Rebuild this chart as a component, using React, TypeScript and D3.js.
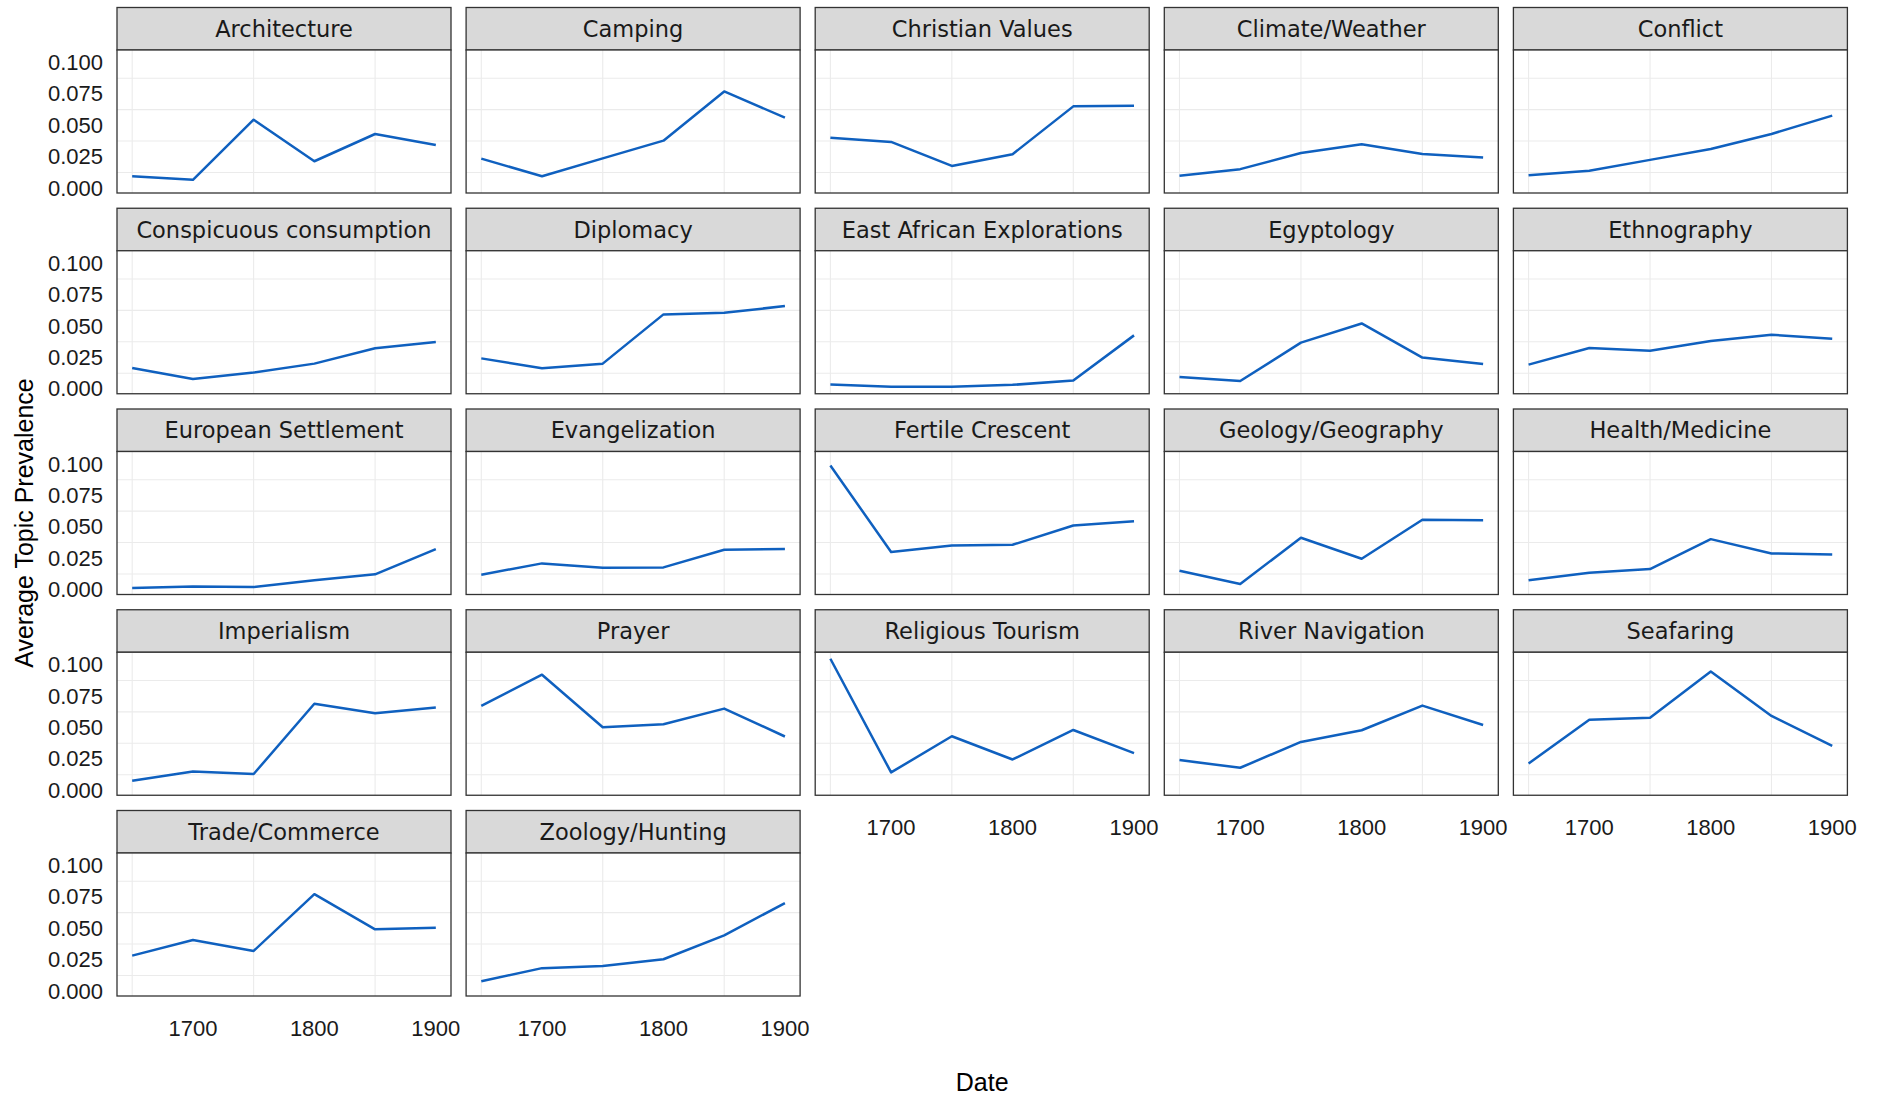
import React, { useEffect } from "react";
import * as d3 from "d3";

// decades sampled (every 50 years)
const years = [1650, 1700, 1750, 1800, 1850, 1900];

const topics = [
  "Architecture", "Camping", "Christian Values", "Climate/Weather", "Conflict",
  "Conspicuous consumption", "Diplomacy", "East African Explorations", "Egyptology", "Ethnography",
  "European Settlement", "Evangelization", "Fertile Crescent", "Geology/Geography", "Health/Medicine",
  "Imperialism", "Prayer", "Religious Tourism", "River Navigation", "Seafaring",
  "Trade/Commerce", "Zoology/Hunting",
];

// average topic prevalence per year
const architecture = [0.0095, 0.0066, 0.0545, 0.0214, 0.0431, 0.0344];
const camping = [0.0235, 0.0095, 0.0237, 0.0378, 0.0770, 0.0561];
const christianValues = [0.0402, 0.0368, 0.0177, 0.0270, 0.0651, 0.0656];
const climateWeather = [0.0098, 0.0151, 0.0280, 0.0349, 0.0272, 0.0243];
const conflict = [0.0103, 0.0138, 0.0225, 0.0312, 0.0431, 0.0577];
const conspicuous = [0.0167, 0.0079, 0.0130, 0.0201, 0.0323, 0.0373];
const diplomacy = [0.0243, 0.0164, 0.0201, 0.0593, 0.0606, 0.0659];
const eastAfrican = [0.0034, 0.0016, 0.0016, 0.0032, 0.0066, 0.0426];
const egyptology = [0.0095, 0.0063, 0.0368, 0.0521, 0.0249, 0.0198];
const ethnography = [0.0193, 0.0325, 0.0304, 0.0381, 0.0431, 0.0399];
const european = [0.0013, 0.0024, 0.0021, 0.0074, 0.0122, 0.0323];
const evangelization = [0.0119, 0.0209, 0.0175, 0.0177, 0.0317, 0.0323];
const fertileCrescent = [0.0989, 0.0299, 0.0352, 0.0357, 0.0511, 0.0545];
const geology = [0.0151, 0.0045, 0.0413, 0.0246, 0.0556, 0.0553];
const health = [0.0074, 0.0135, 0.0164, 0.0402, 0.0288, 0.0280];
const imperialism = [0.0077, 0.0151, 0.0130, 0.0690, 0.0614, 0.0659];
const prayer = [0.0672, 0.0921, 0.0503, 0.0526, 0.0651, 0.0429];
const religiousTourism = [0.1048, 0.0143, 0.0431, 0.0246, 0.0481, 0.0296];
const riverNavigation = [0.0241, 0.0180, 0.0386, 0.0479, 0.0675, 0.0521];
const seafaring = [0.0214, 0.0563, 0.0579, 0.0947, 0.0593, 0.0354];
const tradeCommerce = [0.0283, 0.0407, 0.0320, 0.0772, 0.0492, 0.0505];
const zoologyHunting = [0.0079, 0.0183, 0.0201, 0.0254, 0.0444, 0.0701];

const series = [
  architecture, camping, christianValues, climateWeather, conflict,
  conspicuous, diplomacy, eastAfrican, egyptology, ethnography,
  european, evangelization, fertileCrescent, geology, health,
  imperialism, prayer, religiousTourism, riverNavigation, seafaring,
  tradeCommerce, zoologyHunting,
];

const xTicks = [1700, 1800, 1900];
const yTicks = [0, 0.025, 0.05, 0.075, 0.1];

const W = 1879;
const H = 1095;
const nCol = 5;
const left0 = 117;
const colStep = 349.1;
const panelW = 334;
const top0 = 7.5;
const rowStep = 200.75;
const stripH = 42.5;
const bodyH = 143;

const tickFont = "'Liberation Sans', Arial, Helvetica, sans-serif";
const stripFont = "'DejaVu Sans', Verdana, sans-serif";

export default function App() {
  useEffect(() => {
    document.body.style.margin = "0";
  }, []);

  // ggplot-like 5% expansion
  const xExt = d3.extent(years) as [number, number];
  const xPad = (xExt[1] - xExt[0]) * 0.05;
  const x = d3.scaleLinear().domain([xExt[0] - xPad, xExt[1] + xPad]).range([0, panelW]);

  const all = series.flat();
  const yMin = d3.min(all) as number;
  const yMax = d3.max(all) as number;
  const yPad = (yMax - yMin) * 0.05;
  const y = d3.scaleLinear().domain([yMin - yPad, yMax + yPad]).range([bodyH, 0]);

  // minor breaks sit half way between major ones
  const xMinor = [1650, 1750, 1850];
  const yMinor = d3.range(0.0125, yMax + yPad, 0.025);

  const line = d3.line<number>()
    .x((d, i) => x(years[i]))
    .y((d) => y(d));

  return (
    <svg width={W} height={H} style={{ display: "block", background: "#fff" }}>
      {topics.map((t, i) => {
        const col = i % nCol;
        const row = Math.floor(i / nCol);
        const px = left0 + col * colStep;
        const py = top0 + row * rowStep;
        const showX = i + nCol >= topics.length;
        return (
          <g key={t} transform={`translate(${px},${py})`}>
            <rect x={0} y={0} width={panelW} height={stripH} fill="#d9d9d9" stroke="#333" strokeWidth={1.3} />
            <text
              x={panelW / 2}
              y={stripH / 2 + 8}
              textAnchor="middle"
              fontFamily={stripFont}
              fontSize={22.5}
              fill="#1a1a1a"
            >
              {t}
            </text>
            <g transform={`translate(0,${stripH})`}>
              <rect x={0} y={0} width={panelW} height={bodyH} fill="#fff" />
              {xMinor.map((v) => (
                <line key={"gx" + v} x1={x(v)} x2={x(v)} y1={0} y2={bodyH} stroke="#ebebeb" strokeWidth={1.1} />
              ))}
              {yMinor.map((v) => (
                <line key={"gy" + v} x1={0} x2={panelW} y1={y(v)} y2={y(v)} stroke="#ebebeb" strokeWidth={1.1} />
              ))}
              <path d={line(series[i]) || ""} fill="none" stroke="#0f60bf" strokeWidth={2.5} strokeLinejoin="round" />
              <rect x={0} y={0} width={panelW} height={bodyH} fill="none" stroke="#333" strokeWidth={1.3} />
              {col === 0 &&
                yTicks.map((v) => (
                  <text
                    key={"ty" + v}
                    x={-14}
                    y={y(v) + 7.5}
                    textAnchor="end"
                    fontFamily={tickFont}
                    fontSize={22}
                    fill="#1a1a1a"
                  >
                    {d3.format(".3f")(v)}
                  </text>
                ))}
              {showX &&
                xTicks.map((v) => (
                  <text
                    key={"tx" + v}
                    x={x(v)}
                    y={bodyH + 40}
                    textAnchor="middle"
                    fontFamily={tickFont}
                    fontSize={22}
                    fill="#1a1a1a"
                  >
                    {v}
                  </text>
                ))}
            </g>
          </g>
        );
      })}
      <text
        x={left0 + ((nCol - 1) * colStep + panelW) / 2}
        y={1091}
        textAnchor="middle"
        fontFamily={tickFont}
        fontSize={25}
        fill="#000"
      >
        Date
      </text>
      <text
        transform={`translate(33,523) rotate(-90)`}
        textAnchor="middle"
        fontFamily={tickFont}
        fontSize={25}
        fill="#000"
      >
        Average Topic Prevalence
      </text>
    </svg>
  );
}
